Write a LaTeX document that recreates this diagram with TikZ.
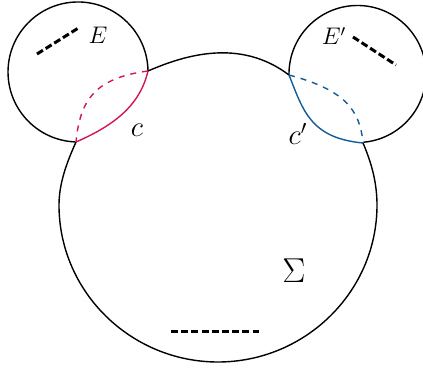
\documentclass[tikz,border=0pt]{standalone}
\usepackage{amsmath}
\begin{document}
\begin{tikzpicture}[x=0.5pt,y=0.5pt,
  outline/.style={line width=0.7pt,black},
  thickdash/.style={line width=1.5pt,dash pattern=on 3.5pt off 1.6pt},
  curveC/.style={line width=0.7pt,draw=cRed},
  curveCp/.style={line width=0.7pt,draw=cBlue},
  lab/.style={inner sep=0pt}]
\definecolor{cRed}{RGB}{210,20,90}
\definecolor{cBlue}{RGB}{20,90,150}
\useasboundingbox (0,0) rectangle (423,-368);
% junction points
\coordinate (A) at (148,-71);
\coordinate (B) at (76,-142);
\coordinate (C) at (289,-75);
\coordinate (D) at (363,-143);
% left small circle
\draw[outline] (A) arc[start angle=0.8,end angle=267.5,radius=70];
% right small circle
\draw[outline] (C) arc[start angle=180.84,end angle=-85,radius=68.5];
% big circle
\draw[outline] (B) .. controls (67,-162) and (59,-183) .. (59,-205)
  .. controls (59,-292) and (131,-362) .. (218,-362)
  .. controls (305,-362) and (377,-292) .. (377,-205)
  .. controls (377,-183) and (371.6,-163) .. (D);
% top curve
\draw[outline] (A) .. controls (185,-55) and (240,-38) .. (C);
% curves c and c'
\draw[curveC] (A) .. controls (140,-105) and (115,-125) .. (B);
\draw[curveC,dashed] (A) .. controls (95,-78) and (80,-100) .. (B);
\draw[curveCp] (C) .. controls (303,-110) and (310,-138) .. (D);
\draw[curveCp,dashed] (C) .. controls (345,-90) and (360,-110) .. (D);
% thick dashed segments
\coordinate (l1) at (37,-54); \coordinate (l2) at (80,-27);
\coordinate (r1) at (353,-37); \coordinate (r2) at (396,-65);
\coordinate (b1) at (171,-332); \coordinate (b2) at (259,-332);
\draw[thickdash] (l1) -- (l2);
\draw[thickdash] (r1) -- (r2);
\draw[thickdash] (b1) -- (b2);
% labels
\node[lab] (lE) at (98,-35) {\large $E$};
\node[lab] (lc) at (137,-130) {\Large $c$};
\node[lab] (lEp) at (334,-36) {\large $E'$};
\node[lab] (lcp) at (298,-134) {\Large $c'$};
\node[lab] (lS) at (294,-271) {\LARGE $\Sigma$};
\end{tikzpicture}
\end{document}
